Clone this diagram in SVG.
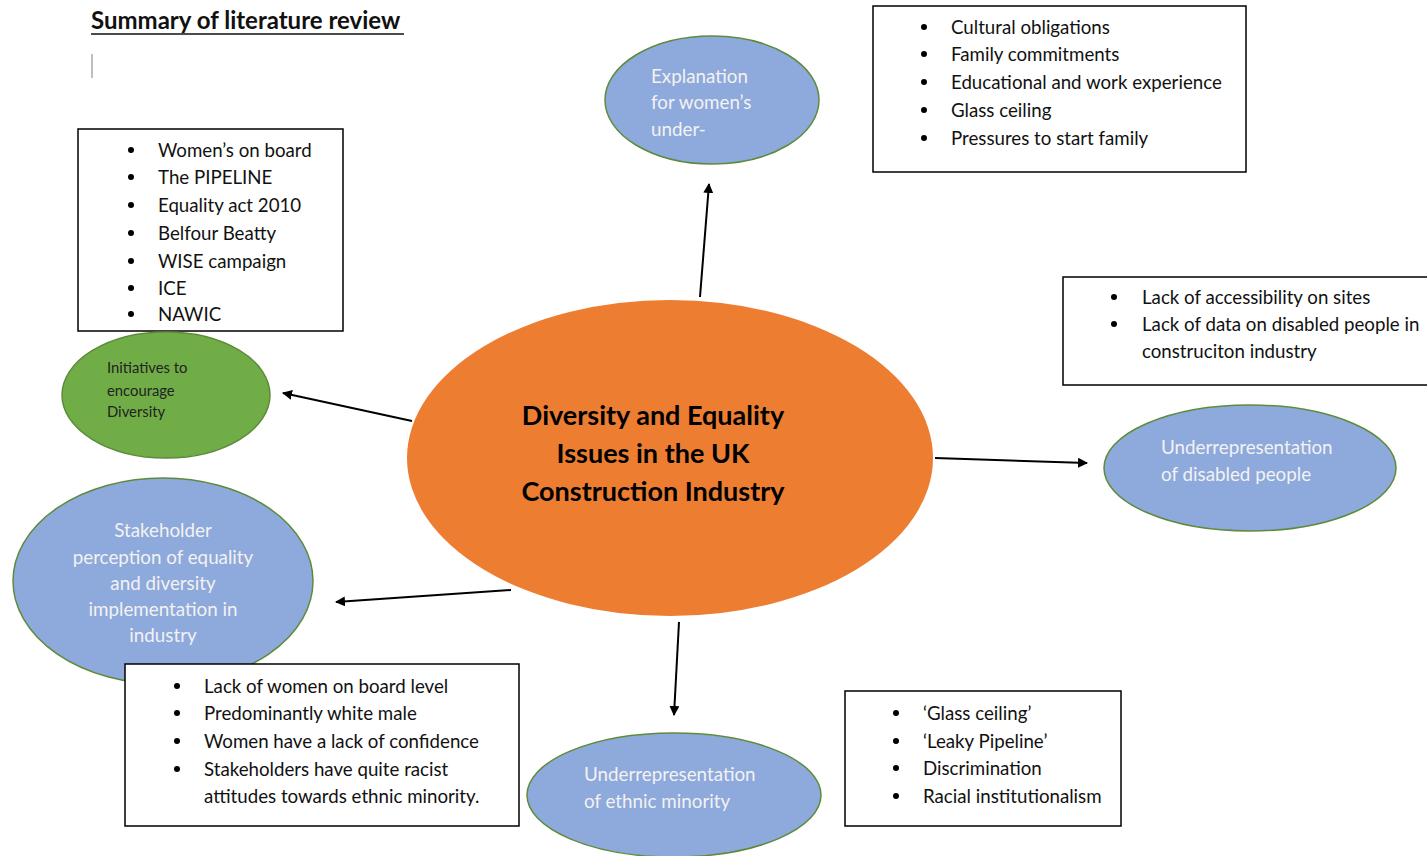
<svg xmlns="http://www.w3.org/2000/svg" width="1427" height="856" viewBox="0 0 1427 856">
<defs>
<marker id="ah" markerWidth="10" markerHeight="10" refX="9" refY="5" orient="auto" markerUnits="userSpaceOnUse">
<path d="M0,0 L10,5 L0,10 z" fill="#000"/>
</marker>
<style>
text{font-family:Lato,"Open Sans","Liberation Sans",sans-serif;}
.box{fill:#fff;stroke:#000;stroke-width:1.5;}
.blue{fill:#8EA9DB;stroke:#5E8A3C;stroke-width:1.5;}
.green{fill:#70AD47;stroke:#5E8A3C;stroke-width:1.5;}
.orange{fill:#ED7D31;stroke:none;}
.li{font-size:18.7px;fill:#111;}
.bul{fill:#000;}
.wt{font-size:18.8px;fill:#F2F2F2;}
.gt{font-size:14.8px;fill:#222;}
.ct{font-size:27px;font-weight:bold;fill:#000;text-anchor:middle;}
.conn{stroke:#000;stroke-width:2;fill:none;marker-end:url(#ah);}
</style>
</defs>
<rect width="1427" height="856" fill="#fff"/>
<g id="title">
<text x="91" y="29" font-size="24" font-weight="bold" fill="#111">Summary of literature review</text>
<line x1="91" y1="34" x2="404" y2="34" stroke="#111" stroke-width="1.5"/>
<line x1="92" y1="54" x2="92" y2="78" stroke="#aaa" stroke-width="1.5"/>
</g>
<g id="connectors">
<line class="conn" x1="700" y1="297" x2="709" y2="184"/>
<line class="conn" x1="412" y1="421" x2="283" y2="393"/>
<line class="conn" x1="935" y1="458" x2="1087" y2="463"/>
<line class="conn" x1="511" y1="590" x2="336" y2="602"/>
<line class="conn" x1="679" y1="622" x2="674" y2="715"/>
</g>
<g id="center">
<ellipse class="orange" cx="670" cy="458" rx="263" ry="158"/>
<text class="ct" x="653" y="425">Diversity and Equality</text>
<text class="ct" x="653" y="463">Issues in the UK</text>
<text class="ct" x="653" y="501">Construction Industry</text>
</g>
<g id="initiatives-box">
<rect class="box" x="78" y="129" width="265" height="202"/>
<g class="bul"><circle cx="131" cy="150" r="3"/><circle cx="131" cy="177" r="3"/><circle cx="131" cy="205" r="3"/><circle cx="131" cy="233" r="3"/><circle cx="131" cy="261" r="3"/><circle cx="131" cy="288" r="3"/><circle cx="131" cy="314" r="3"/></g>
<text class="li" x="158" y="157">Women’s on board</text>
<text class="li" x="158" y="184">The PIPELINE</text>
<text class="li" x="158" y="212">Equality act 2010</text>
<text class="li" x="158" y="240">Belfour Beatty</text>
<text class="li" x="158" y="268">WISE campaign</text>
<text class="li" x="158" y="295">ICE</text>
<text class="li" x="158" y="321">NAWIC</text>
</g>
<g id="initiatives">
<ellipse class="green" cx="166" cy="395" rx="104" ry="63"/>
<text class="gt" x="107" y="373">Initiatives to</text>
<text class="gt" x="107" y="396">encourage</text>
<text class="gt" x="107" y="417">Diversity</text>
</g>
<g id="women">
<ellipse class="blue" cx="712" cy="100" rx="107" ry="64"/>
<text class="wt" x="651" y="83">Explanation</text>
<text class="wt" x="651" y="109">for women’s</text>
<text class="wt" x="651" y="136">under-</text>
</g>
<g id="women-box">
<rect class="box" x="873" y="6" width="373" height="166"/>
<g class="bul"><circle cx="924" cy="27" r="3"/><circle cx="924" cy="54" r="3"/><circle cx="924" cy="82" r="3"/><circle cx="924" cy="110" r="3"/><circle cx="924" cy="138" r="3"/></g>
<text class="li" x="951" y="34">Cultural obligations</text>
<text class="li" x="951" y="61">Family commitments</text>
<text class="li" x="951" y="89">Educational and work experience</text>
<text class="li" x="951" y="117">Glass ceiling</text>
<text class="li" x="951" y="145">Pressures to start family</text>
</g>
<g id="disabled-box">
<rect class="box" x="1063" y="277" width="370" height="108"/>
<g class="bul"><circle cx="1114" cy="297" r="3"/><circle cx="1114" cy="324" r="3"/></g>
<text class="li" x="1142" y="304">Lack of accessibility on sites</text>
<text class="li" x="1142" y="331">Lack of data on disabled people in</text>
<text class="li" x="1142" y="358">construciton industry</text>
</g>
<g id="disabled">
<ellipse class="blue" cx="1250" cy="468" rx="146" ry="63"/>
<text class="wt" x="1161" y="454">Underrepresentation</text>
<text class="wt" x="1161" y="481">of disabled people</text>
</g>
<g id="stakeholder">
<ellipse class="blue" cx="163" cy="581" rx="150" ry="103"/>
<g text-anchor="middle">
<text class="wt" x="163" y="537">Stakeholder</text>
<text class="wt" x="163" y="564">perception of equality</text>
<text class="wt" x="163" y="590">and diversity</text>
<text class="wt" x="163" y="616">implementation in</text>
<text class="wt" x="163" y="642">industry</text>
</g>
</g>
<g id="stakeholder-box">
<rect class="box" x="125" y="664" width="394" height="162"/>
<g class="bul"><circle cx="177" cy="686" r="3"/><circle cx="177" cy="713" r="3"/><circle cx="177" cy="741" r="3"/><circle cx="177" cy="769" r="3"/></g>
<text class="li" x="204" y="693">Lack of women on board level</text>
<text class="li" x="204" y="720">Predominantly white male</text>
<text class="li" x="204" y="748">Women have a lack of confidence</text>
<text class="li" x="204" y="776">Stakeholders have quite racist</text>
<text class="li" x="204" y="803">attitudes towards ethnic minority.</text>
</g>
<g id="ethnic">
<ellipse class="blue" cx="674" cy="795" rx="147" ry="62"/>
<text class="wt" x="584" y="781">Underrepresentation</text>
<text class="wt" x="584" y="808">of ethnic minority</text>
</g>
<g id="ethnic-box">
<rect class="box" x="845" y="691" width="276" height="135"/>
<g class="bul"><circle cx="896" cy="713" r="3"/><circle cx="896" cy="741" r="3"/><circle cx="896" cy="768" r="3"/><circle cx="896" cy="796" r="3"/></g>
<text class="li" x="923" y="720">‘Glass ceiling’</text>
<text class="li" x="923" y="748">‘Leaky Pipeline’</text>
<text class="li" x="923" y="775">Discrimination</text>
<text class="li" x="923" y="803">Racial institutionalism</text>
</g>
</svg>
